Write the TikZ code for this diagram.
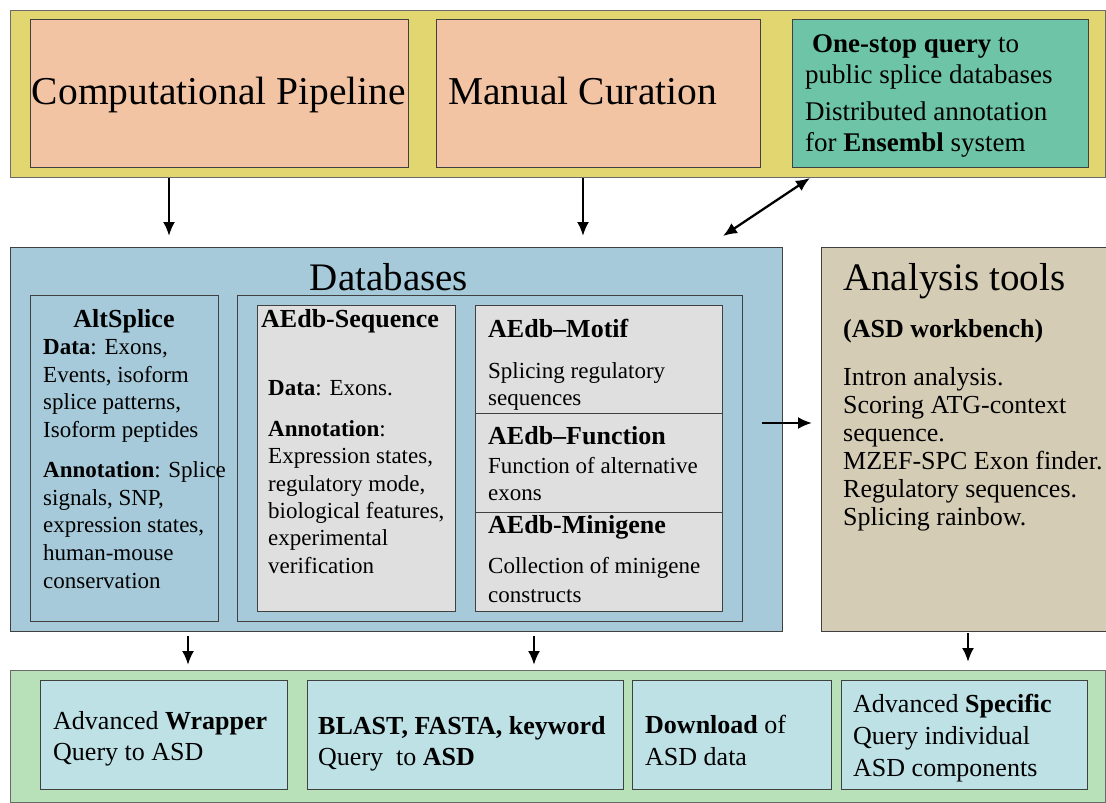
\documentclass[tikz,border=0pt]{standalone}
\usepackage{fontspec}
\setmainfont{Liberation Serif}
\usetikzlibrary{arrows.meta}
\definecolor{bandyellow}{HTML}{E2D670}
\definecolor{salmon}{HTML}{F3C4A4}
\definecolor{teal}{HTML}{6EC4A6}
\definecolor{dbblue}{HTML}{A6CADA}
\definecolor{lgray}{HTML}{DFDFDF}
\definecolor{tan}{HTML}{D5CCB5}
\definecolor{bandgreen}{HTML}{B8E0B9}
\definecolor{qcyan}{HTML}{BEE1E6}
\definecolor{edge}{HTML}{404040}
\definecolor{bandedge}{HTML}{6A6A6A}
\begin{document}
\begin{tikzpicture}[x=1pt,y=-1pt,
  box/.style={draw=edge, line width=1.3pt, inner sep=0pt, anchor=north west},
  band/.style={draw=bandedge, line width=1.2pt, inner sep=0pt, anchor=north west},
  txt/.style={inner sep=0pt, anchor=base west, align=left},
  ctxt/.style={inner sep=0pt, anchor=base},
  big/.style={font=\fontsize{39.5}{45}\selectfont},
  head/.style={font=\bfseries\fontsize{26}{30}\selectfont},
  arr/.style={line width=2.3pt, -{Latex[length=14pt,width=12pt]}},
  darr/.style={line width=2.3pt, {Latex[length=14pt,width=12pt]}-{Latex[length=14pt,width=12pt]}}
]
\useasboundingbox (0,0) rectangle (1106,803);
\fill[white] (0,0) rectangle (1106,803);

% top band
\node[band, fill=bandyellow, minimum width=1095pt, minimum height=167pt] (topband) at (10,10) {};
\node[box, fill=salmon, minimum width=378pt, minimum height=148pt] (cp) at (30,19) {};
\node[box, fill=salmon, minimum width=324pt, minimum height=148pt] (mc) at (436,19) {};
\node[box, fill=teal, minimum width=296pt, minimum height=148pt] (os) at (792,19) {};
\node[ctxt, big] (cpt) at (219,104) {Computational Pipeline};
\node[txt, big] (mct) at (448,104) {Manual Curation};
% multi-line nodes: anchor = baseline of the last line
\node[txt, font=\fontsize{27}{31}\selectfont] (ost) at (805,151)
  {\hspace*{7pt}\textbf{One-stop query} to\\ public splice databases\\[6pt]
   Distributed annotation\\ for \textbf{Ensembl} system};

% databases
\node[box, fill=dbblue, minimum width=772pt, minimum height=384pt] (db) at (10,247) {};
\node[ctxt, font=\fontsize{39}{45}\selectfont] (dbt) at (389,290) {Databases};
\node[box, fill=dbblue, minimum width=188pt, minimum height=326pt] (alt) at (30,295) {};
\node[box, fill=dbblue, minimum width=505pt, minimum height=326pt] (aedb) at (237,295) {};
\node[box, fill=lgray, minimum width=198pt, minimum height=306pt] (seq) at (257,305) {};
\node[box, fill=lgray, minimum width=247pt, minimum height=108pt] (motif) at (475,305) {};
\node[box, fill=lgray, minimum width=247pt, minimum height=99pt] (func) at (475,413) {};
\node[box, fill=lgray, minimum width=247pt, minimum height=99pt] (mini) at (475,512) {};

\node[ctxt, head] (altt) at (124,327) {AltSplice};
\node[txt, font=\fontsize{23}{27.6}\selectfont] (altb) at (43,588)
  {\textbf{Data}: Exons,\\ Events, isoform\\ splice patterns,\\ Isoform peptides\\[12.5pt]
   \textbf{Annotation}: Splice\\ signals, SNP,\\ expression states,\\ human-mouse\\ conservation};

\node[txt, head] (seqt) at (261,327) {AEdb-Sequence};
\node[txt, font=\fontsize{23}{27.3}\selectfont] (seqb) at (268,573)
  {\textbf{Data}: Exons.\\[13.7pt] \textbf{Annotation}:\\ Expression states,\\ regulatory mode,\\
   biological features,\\ experimental\\ verification};

\node[txt, head] (motift) at (488,337) {AEdb--Motif};
\node[txt, font=\fontsize{23}{27}\selectfont] (motifb) at (488,405) {Splicing regulatory\\ sequences};
\node[txt, head] (funct) at (488,444) {AEdb--Function};
\node[txt, font=\fontsize{23}{27}\selectfont] (funcb) at (488,500) {Function of alternative\\ exons};
\node[txt, head] (minit) at (488,533) {AEdb-Minigene};
\node[txt, font=\fontsize{23}{29}\selectfont] (minib) at (488,602) {Collection of minigene\\ constructs};

% analysis tools
\node[box, fill=tan, minimum width=285pt, minimum height=384pt] (an) at (821,247) {};
\node[txt, font=\fontsize{39}{45}\selectfont] (ant) at (843,290) {Analysis tools};
\node[txt, head] (ansub) at (843,337) {(ASD workbench)};
\node[txt, font=\fontsize{26}{28}\selectfont] (anb) at (843,525)
  {Intron analysis.\\ Scoring ATG-context\\ sequence.\\ MZEF-SPC Exon finder.\\
   Regulatory sequences.\\ Splicing rainbow.};

% bottom band
\node[band, fill=bandgreen, minimum width=1095pt, minimum height=132pt] (botband) at (10,670) {};
\node[box, fill=qcyan, minimum width=247pt, minimum height=109pt] (q1) at (40,680) {};
\node[box, fill=qcyan, minimum width=316pt, minimum height=109pt] (q2) at (307,680) {};
\node[box, fill=qcyan, minimum width=199pt, minimum height=109pt] (q3) at (632,680) {};
\node[box, fill=qcyan, minimum width=246pt, minimum height=109pt] (q4) at (841,680) {};
\node[txt, font=\fontsize{26}{31}\selectfont] (q1t) at (53,760) {Advanced \textbf{Wrapper}\\ Query to ASD};
\node[txt, font=\fontsize{26}{31}\selectfont] (q2t) at (318,765) {\textbf{BLAST, FASTA, keyword}\\ Query\ \ to \textbf{ASD}};
\node[txt, font=\fontsize{26}{32}\selectfont] (q3t) at (645,765) {\textbf{Download} of\\ ASD data};
\node[txt, font=\fontsize{26}{32}\selectfont] (q4t) at (853,776) {Advanced \textbf{Specific}\\ Query individual\\ ASD components};

% connectors
\coordinate (a1) at (169,236);
\coordinate (a2) at (583,236);
\draw[arr] (a1 |- topband.south) -- (a1);
\draw[arr] (a2 |- topband.south) -- (a2);
\coordinate (d1) at (810,178);
\coordinate (d2) at (723,236);
\draw[darr] (d1) -- (d2);
\coordinate (r1) at (762,423);
\coordinate (r2) at (812,423);
\draw[arr] (r1) -- (r2);
\coordinate (b1s) at (188,636);
\coordinate (b1e) at (188,665);
\coordinate (b2s) at (534,636);
\coordinate (b2e) at (534,665);
\coordinate (b3s) at (968,633);
\coordinate (b3e) at (968,662);
\draw[arr] (b1s) -- (b1e);
\draw[arr] (b2s) -- (b2e);
\draw[arr] (b3s) -- (b3e);
\end{tikzpicture}
\end{document}
